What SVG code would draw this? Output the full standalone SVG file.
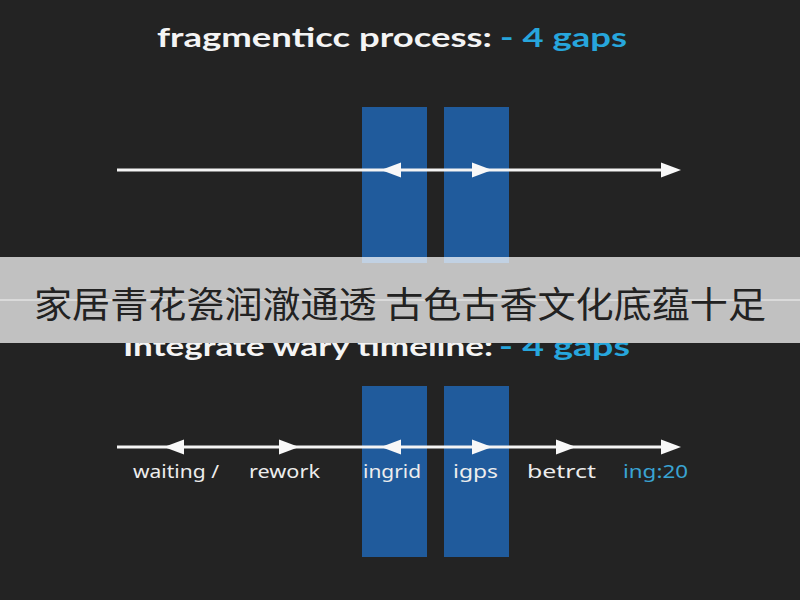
<svg xmlns="http://www.w3.org/2000/svg" xmlns:xlink="http://www.w3.org/1999/xlink" width="800" height="600" viewBox="0 0 800 600">
  <style>
    .bg { fill: #232323; }
    .bar { fill: #205b9c; }
    .title { font-family: "Lato", "Noto Sans", "Liberation Sans", sans-serif; font-weight: 700; font-size: 27px; }
    .w { fill: #f4f4f4; }
    .b { fill: #27a6dc; }
    .lbl { font-family: "Noto Sans", "Liberation Sans", sans-serif; font-size: 18px; fill: #ededed; }
    .line { stroke: #f4f4f4; stroke-width: 3; fill: none; }
    .ah { fill: #f8f8f8; }
    .cjk { font-family: "Noto Sans CJK SC", "Noto Sans", sans-serif; font-size: 36px; fill: #222222; }
  </style>
  <defs>
    <polygon id="ahR" points="0,0 -20,-7.5 -20,7.5"/>
    <polygon id="ahL" points="0,0 20,-7.5 20,7.5"/>
  </defs>

  <rect class="bg" x="0" y="0" width="800" height="600"/>

  <!-- Top section -->
  <g id="title-top">
    <text class="title w" x="157" y="47" textLength="335" lengthAdjust="spacingAndGlyphs">fragmenticc process:</text>
    <text class="title b" x="500" y="47" textLength="127" lengthAdjust="spacingAndGlyphs">- 4 gaps</text>
  </g>
  <g id="top-gap-1"><rect class="bar" x="362" y="107" width="65" height="156"/></g>
  <g id="top-gap-2"><rect class="bar" x="444" y="107" width="65" height="156"/></g>

  <!-- Bottom section -->
  <g id="title-bottom">
    <text class="title w" x="123" y="356" textLength="370" lengthAdjust="spacingAndGlyphs">Integrate wary timeline:</text>
    <text class="title b" x="499" y="356" textLength="131" lengthAdjust="spacingAndGlyphs">- 4 gaps</text>
  </g>
  <g id="bottom-gap-1"><rect class="bar" x="362" y="386" width="65" height="171"/></g>
  <g id="bottom-gap-2"><rect class="bar" x="444" y="386" width="65" height="171"/></g>

  <g id="connectors">
    <line class="line" x1="117" y1="170" x2="670" y2="170"/>
    <use xlink:href="#ahL" class="ah" x="381" y="170"/>
    <use xlink:href="#ahR" class="ah" x="492" y="170"/>
    <use xlink:href="#ahR" class="ah" x="681" y="170"/>

    <line class="line" x1="117" y1="447" x2="670" y2="447"/>
    <use xlink:href="#ahL" class="ah" x="164" y="447"/>
    <use xlink:href="#ahR" class="ah" x="299" y="447"/>
    <use xlink:href="#ahL" class="ah" x="381" y="447"/>
    <use xlink:href="#ahR" class="ah" x="492" y="447"/>
    <use xlink:href="#ahR" class="ah" x="576" y="447"/>
    <use xlink:href="#ahR" class="ah" x="681" y="447"/>
  </g>

  <g id="labels">
    <text class="lbl" x="133" y="478" textLength="86" lengthAdjust="spacingAndGlyphs">waiting /</text>
    <text class="lbl" x="249" y="478" textLength="71" lengthAdjust="spacingAndGlyphs">rework</text>
    <text class="lbl" x="363" y="478" textLength="58" lengthAdjust="spacingAndGlyphs">ingrid</text>
    <text class="lbl" x="453" y="478" textLength="45" lengthAdjust="spacingAndGlyphs">igps</text>
    <text class="lbl" x="527" y="478" textLength="69" lengthAdjust="spacingAndGlyphs">betrct</text>
    <text class="lbl" x="623" y="478" textLength="65" lengthAdjust="spacingAndGlyphs" style="fill:#3aa3d2">ing:20</text>
  </g>

  <!-- Caption banner -->
  <g id="banner">
    <rect x="0" y="257" width="800" height="7" fill="#ffffff" fill-opacity="0.72"/>
    <rect x="0" y="264" width="800" height="79" fill="#c1c1c1"/>
    <line x1="0" y1="300" x2="800" y2="300" stroke="#dadada" stroke-width="2"/>
    <text class="cjk" x="400" y="318" text-anchor="middle" textLength="732" lengthAdjust="spacingAndGlyphs">家居青花瓷润澈通透 古色古香文化底蕴十足</text>
  </g>
</svg>
